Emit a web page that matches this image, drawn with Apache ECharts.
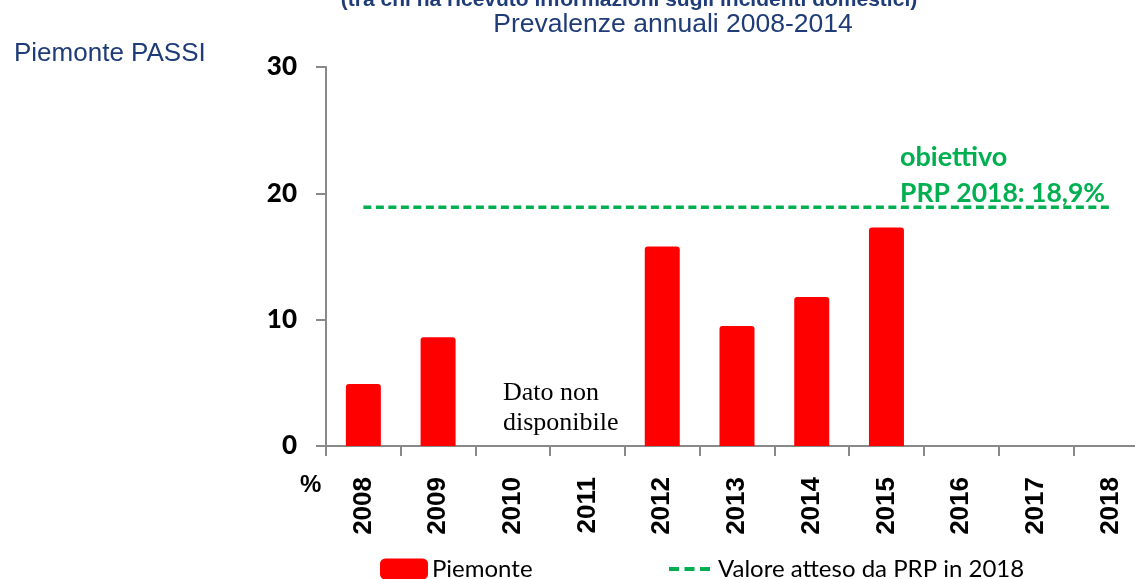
<!DOCTYPE html>
<html>
<head>
<meta charset="utf-8">
<script src="https://cdn.jsdelivr.net/npm/echarts@6/dist/echarts.min.js"></script>
<style>
html,body{margin:0;padding:0;background:#fff;overflow:hidden;width:1135px;height:579px;}
#chart{width:1150px;height:579px;}
</style>
</head>
<body>
<div id="chart"></div>
<script>
const categories = ['2008','2009','2010','2011','2012','2013','2014','2015','2016','2017','2018'];
const piemonte = [4.9, 8.6, null, null, 15.8, 9.5, 11.8, 17.3, null, null, null];
const atteso = [18.9, 18.9, 18.9, 18.9, 18.9, 18.9, 18.9, 18.9, 18.9, 18.9, 18.9];
const yTicks = [0, 10, 20, 30];

const navy = '#1F3C78';
const green = '#00B050';
const calibri = 'Lato, "Open Sans", sans-serif';

const chart = echarts.init(document.getElementById('chart'));
chart.setOption({
  animation: false,
  backgroundColor: '#fff',
  grid: { left: 326, top: 67, height: 379, width: 822, containLabel: false },
  xAxis: {
    type: 'category',
    data: categories,
    boundaryGap: true,
    axisLine: { lineStyle: { color: '#898989', width: 2 } },
    axisTick: { show: true, length: 10, lineStyle: { color: '#898989', width: 2 } },
    axisLabel: {
      rotate: 90, margin: 31, interval: 0,
      fontFamily: '"Liberation Sans", Arial, sans-serif',
      fontWeight: 'bold', fontSize: 26, color: '#000'
    }
  },
  yAxis: {
    type: 'value',
    min: yTicks[0], max: yTicks[yTicks.length - 1], interval: 10,
    splitLine: { show: false },
    axisLine: { show: true, lineStyle: { color: '#898989', width: 2 } },
    axisTick: { show: true, length: 10, lineStyle: { color: '#898989', width: 2 } },
    axisLabel: { margin: 29, fontFamily: calibri, fontWeight: 900, fontSize: 26, color: '#000' }
  },
  legend: [
    {
      data: ['Piemonte'], left: 380, top: 557, padding: 0, itemWidth: 48, itemHeight: 21,
      textStyle: { fontFamily: calibri, fontSize: 24, color: '#000', padding: [0,0,0,-1] }
    },
    {
      data: ['Valore atteso da PRP in 2018'], left: 669, top: 557, padding: 0, itemWidth: 41, itemHeight: 4,
      icon: 'path://M0,0h10v4h-10z M15.5,0h10v4h-10z M31,0h10v4h-10z',
      itemStyle: { color: green },
      textStyle: { fontFamily: calibri, fontSize: 24, color: '#000', padding: [0,0,0,3] }
    }
  ],
  series: [
    {
      name: 'Piemonte', type: 'bar', data: piemonte, barWidth: 35,
      itemStyle: { color: '#FF0000', borderRadius: [3,3,0,0] }
    },
    {
      name: 'Valore atteso da PRP in 2018', type: 'line', data: atteso,
      symbol: 'none', showSymbol: false,
      lineStyle: { color: green, width: 3.5, type: [8, 4.5] },
      itemStyle: { color: green }
    }
  ],
  graphic: [
    { type: 'text', x: 629, y: 0, style: { text: '(tra chi ha ricevuto informazioni sugli incidenti domestici)', align: 'center', verticalAlign: 'middle', font: 'bold 21px "Liberation Sans", Arial, sans-serif', fill: navy } },
    { type: 'text', x: 673, y: 24.5, style: { text: 'Prevalenze annuali 2008-2014', align: 'center', verticalAlign: 'middle', font: '26.5px "Liberation Sans", Arial, sans-serif', fill: navy } },
    { type: 'text', x: 14, y: 53.5, style: { text: 'Piemonte PASSI', align: 'left', verticalAlign: 'middle', font: '26px "Liberation Sans", Arial, sans-serif', fill: navy } },
    { type: 'text', x: 300, y: 485, style: { text: '%', align: 'left', verticalAlign: 'middle', font: 'bold 24px "Liberation Sans", Arial, sans-serif', fill: '#000' } },
    { type: 'text', x: 900, y: 157.5, style: { text: 'obiettivo', align: 'left', verticalAlign: 'middle', font: 'bold 27px Lato, sans-serif', fill: green } },
    { type: 'text', x: 900, y: 193.5, style: { text: 'PRP 2018: 18,9%', align: 'left', verticalAlign: 'middle', font: 'bold 26.5px Lato, sans-serif', fill: green } },
    { type: 'text', x: 503, y: 393.5, style: { text: 'Dato non', align: 'left', verticalAlign: 'middle', font: '26px "Liberation Serif", serif', fill: '#000' } },
    { type: 'text', x: 503, y: 423.5, style: { text: 'disponibile', align: 'left', verticalAlign: 'middle', font: '26px "Liberation Serif", serif', fill: '#000' } }
  ]
});
</script>
</body>
</html>
